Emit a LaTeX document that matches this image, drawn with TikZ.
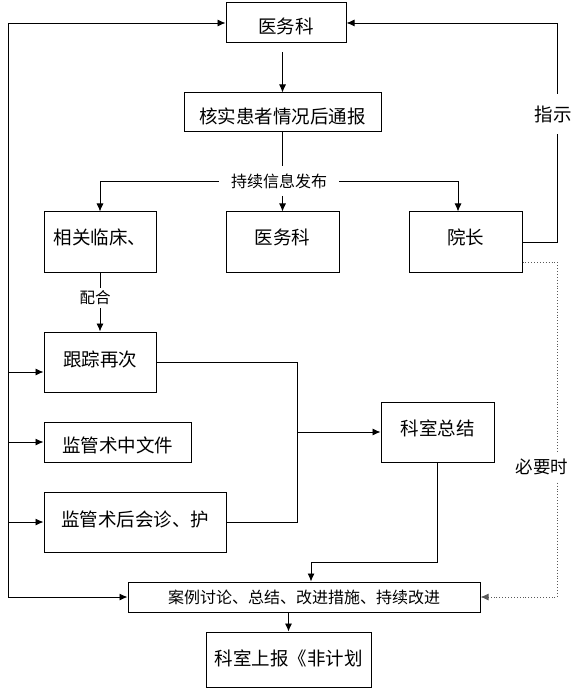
\documentclass[tikz,border=0pt]{standalone}
\usepackage{fontspec}
\newfontfamily\cjk{Noto Sans CJK SC}
\usetikzlibrary{arrows.meta}
\begin{document}
\begin{tikzpicture}[x=1pt,y=-1pt,
  box/.style={draw,line width=1pt,rectangle,inner sep=0pt,text height=15pt,text depth=3pt,font=\cjk\fontsize{18.5}{18.5}\selectfont},
  lab/.style={fill=white,inner sep=0pt,font=\cjk\fontsize{16}{16}\selectfont},
  arr/.style={-{Latex[length=8pt,width=7pt]}},
  every path/.style={line width=0.9pt}]
\useasboundingbox (0,0) rectangle (578,692);
% nodes
\node[box,minimum width=120,minimum height=40] (top) at (286,23) {\raisebox{-5pt}{医务科}};
\node[box,minimum width=197,minimum height=39] (hes) at (282.5,112.5) {\raisebox{-5pt}{核实患者情况后通报}};
\node[box,minimum width=112,minimum height=60] (rel) at (100,242) {\raisebox{3pt}{相关临床、}};
\node[box,minimum width=113,minimum height=60] (mid) at (282.5,242) {\raisebox{3pt}{医务科}};
\node[box,minimum width=113,minimum height=60] (yz) at (465.5,242) {\raisebox{3pt}{院长}};
\node[box,minimum width=112,minimum height=60] (gz) at (100,362) {\raisebox{2pt}{跟踪再次}};
\node[box,minimum width=113,minimum height=60] (ks) at (437.5,432) {\raisebox{3pt}{科室总结}};
\node[box,minimum width=147,minimum height=40] (zz) at (117.5,442) {\raisebox{-4pt}{监管术中文件}};
\node[box,minimum width=182,minimum height=60] (sh) at (135,522) {\raisebox{2pt}{监管术后会诊、护}};
\node[box,minimum width=352,minimum height=30,font=\cjk\fontsize{16}{16}\selectfont] (case) at (304,597) {案例讨论、总结、改进措施、持续改进};
\node[box,minimum width=165,minimum height=55] (rep) at (288.5,659.5) {科室上报《非计划};
\node[lab,inner xsep=12pt,inner ysep=7pt] (info) at (279,181) {持续信息发布};
% coordinates
\coordinate (L) at (8,0);
\coordinate (R) at (557,0);
\coordinate (M) at (297,0);
\coordinate (K) at (311,562);
\coordinate (Y) at (458,0);
% connectors
\draw[arr] ([yshift=-9pt]hes.north |- top.south) -- (hes.north);
\draw (hes.south) -- (hes.south |- info.north);
\draw[arr] (hes.south |- info.south) -- (mid.north);
\draw[arr] (info.west) -| (rel.north);
\draw[arr] (info.east) -| (Y |- yz.north);
\draw[arr] (yz.east) -| (R |- top.east) -- (top.east);
\draw[dotted,gray!70!black,arr] ([yshift=-20pt]yz.east) -| (R |- case.east) -- (case.east);
\draw[arr] (L |- case.west) -- (L |- top.west) -- (top.west);
\draw[arr] (L |- case.west) -- (case.west);
\draw[arr] ([yshift=-10pt]L |- gz.west) -- ([yshift=-10pt]gz.west);
\draw[arr] (L |- zz.west) -- (zz.west);
\draw[arr] (L |- sh.west) -- (sh.west);
\draw[arr] (rel.south) -- (gz.north);
\draw (gz.east) -| (M |- sh.east) -- (sh.east);
\draw[arr] (M |- ks.west) -- (ks.west);
\draw[arr] (ks.south) |- (K) -- (K |- case.north);
\draw[arr] (case.south -| rep.north) -- (rep.north);
% labels on lines
\node[lab,inner ysep=11pt,inner xsep=0pt,font=\cjk\fontsize{18.5}{18.5}\selectfont] (zs) at (553,114) {指示};
\node[lab,inner ysep=3pt,font=\cjk\fontsize{15.5}{15.5}\selectfont] (ph) at (95,298) {配合};
\node[lab,inner ysep=6pt,font=\cjk\fontsize{17.5}{17.5}\selectfont] (byz) at (542,467) {必要时};
\end{tikzpicture}
\end{document}
